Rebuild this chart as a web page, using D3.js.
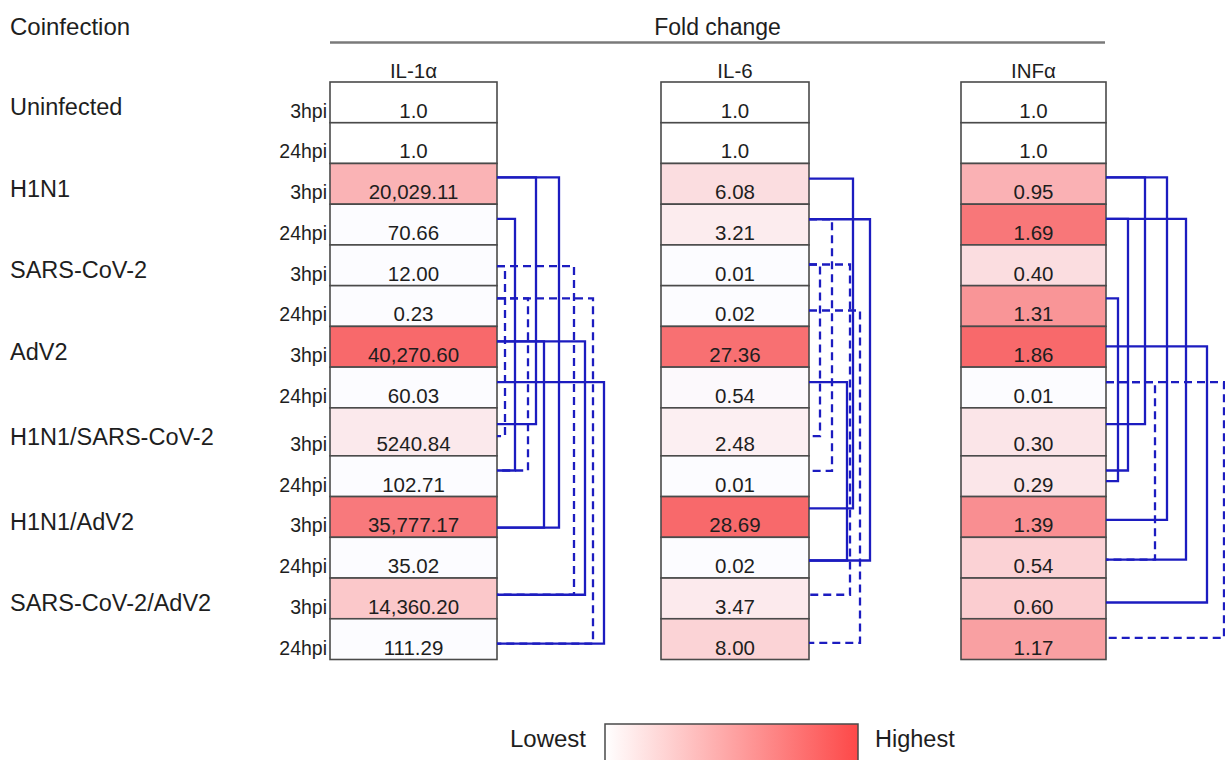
<!DOCTYPE html>
<html><head><meta charset="utf-8">
<script src="https://cdn.jsdelivr.net/npm/d3@7"></script>
<style>
body{margin:0;background:#fff;}
svg{display:block;}
text{font-family:"Liberation Sans",Arial,sans-serif;fill:#1e1e1e;}
</style>
</head><body>
<svg id="chart" width="1225" height="760"></svg>
<script>
// ---------------- DATA ----------------
const groups = ["Uninfected","H1N1","SARS-CoV-2","AdV2","H1N1/SARS-CoV-2","H1N1/AdV2","SARS-CoV-2/AdV2"];
const times = ["3hpi","24hpi"];
const cytokines = ["IL-1α","IL-6","INFα"];
const il1aLabels = ["1.0","1.0","20,029.11","70.66","12.00","0.23","40,270.60","60.03","5240.84","102.71","35,777.17","35.02","14,360.20","111.29"];
const il6Labels  = ["1.0","1.0","6.08","3.21","0.01","0.02","27.36","0.54","2.48","0.01","28.69","0.02","3.47","8.00"];
const infaLabels = ["1.0","1.0","0.95","1.69","0.40","1.31","1.86","0.01","0.30","0.29","1.39","0.54","0.60","1.17"];
// significance comparisons: [fromRow, toRow, dashed(1)/solid(0)]
const il1aComparisons = [[2,8,0],[2,10,0],[3,9,0],[4,8,1],[4,12,1],[5,9,1],[5,13,1],[6,10,0],[6,12,0],[7,13,0]];
const il6Comparisons  = [[2,10,0],[3,11,0],[3,9,1],[4,8,1],[4,12,1],[5,13,1],[7,11,0]];
const infaComparisons = [[2,8,0],[2,10,0],[3,9,0],[3,11,0],[5,9,0],[6,12,0],[7,11,1],[7,13,1]];
const legendLabels = ["Lowest","Highest"];
const headerLabels = ["Coinfection","Fold change"];

// ---------------- LAYOUT ----------------
const colBoxes = [[330,497],[661,809],[961,1106]];
// bracket lane offsets (px right of table) and anchor fractions within rows
const il1aLayout = [[39,.34,.34],[62,.34,.76],[18,.36,.36],[8,.52,.59],[77,.52,.41],[31,.31,.36],[96,.31,.61],[47,.37,.76],[88,.37,.41],[107,.37,.61]];
const il6Layout  = [[44,.37,.29],[61,.37,.57],[23,.37,.37],[11,.48,.59],[41,.48,.41],[51,.61,.59],[38,.37,.57]];
const infaLayout = [[39,.34,.34],[61,.34,.57],[22,.36,.36],[80,.36,.55],[12,.31,.62],[101,.49,.60],[49,.37,.55],[118,.37,.47]];

const nRows = groups.length * times.length;
const rowWeights = d3.range(nRows).map(r => r === 8 ? 1.178 : 1);
const rowStarts = [0]; rowWeights.forEach((w,i)=>rowStarts.push(rowStarts[i]+w));
const y = d3.scaleLinear().domain([0, rowStarts[nRows]]).range([82, 659.5]);
const rowTop = r => y(rowStarts[r]);
const rowBot = r => y(rowStarts[r+1]);
const rowAt = (r,f) => rowTop(r) + f*(rowBot(r)-rowTop(r));

const svg = d3.select("#chart");

// header
svg.append("text").attr("x",10).attr("y",35).attr("font-size",24).text(headerLabels[0]);
svg.append("text").attr("x",(330+1105)/2).attr("y",35).attr("font-size",23).attr("text-anchor","middle").text(headerLabels[1]);
svg.append("line").attr("x1",330).attr("x2",1105).attr("y1",42.5).attr("y2",42.5).attr("stroke","#7a7a7a").attr("stroke-width",2.4);

// group labels and row labels
groups.forEach((g,i)=>{
  const r = i*2;
  svg.append("text").attr("x",10).attr("y",(rowTop(r)+rowBot(r))/2 + 13).attr("font-size",23.5).text(g);
});
d3.range(nRows).forEach(r=>{
  svg.append("text").attr("x",327).attr("y",rowBot(r)-5).attr("text-anchor","end").attr("font-size",19.5).text(times[r%2]);
});

const allLabels = [il1aLabels, il6Labels, infaLabels];
const allComps = [il1aComparisons, il6Comparisons, infaComparisons];
const allLayouts = [il1aLayout, il6Layout, infaLayout];
const parse = s => +s.replace(/,/g,"");

cytokines.forEach((name, ci)=>{
  const [x0,x1] = colBoxes[ci];
  const labels = allLabels[ci];
  const vals = labels.map(parse);
  const infected = vals.slice(2);
  const color = d3.scaleLinear().domain([d3.min(infected), d3.max(infected)]).range(["#fcfcff","#f8696b"]);
  const g = svg.append("g");
  g.append("text").attr("x",(x0+x1)/2).attr("y",78).attr("text-anchor","middle").attr("font-size",20.5).text(name);
  g.selectAll("rect.cell").data(vals).join("rect")
    .attr("x",x0).attr("width",x1-x0)
    .attr("y",(d,i)=>rowTop(i)).attr("height",(d,i)=>rowBot(i)-rowTop(i))
    .attr("fill",(d,i)=> i<2 ? "#ffffff" : color(d))
    .attr("stroke","#4a4a4a").attr("stroke-width",1.6);
  g.selectAll("text.val").data(labels).join("text")
    .attr("x",(x0+x1)/2).attr("y",(d,i)=>rowBot(i)-5)
    .attr("text-anchor","middle").attr("font-size",20.5).text(d=>d);
  // brackets
  const comps = allComps[ci], lay = allLayouts[ci];
  const bg = svg.append("g").attr("fill","none").attr("stroke","#1c1cc0").attr("stroke-width",2.3);
  comps.forEach((c,k)=>{
    const [a,b,dashed] = c; const [off,f0,f1] = lay[k];
    const ya = rowAt(a,f0), yb = rowAt(b,f1), xl = x1+off;
    bg.append("path")
      .attr("d",`M${x1},${ya}H${xl}V${yb}H${x1}`)
      .attr("stroke-dasharray", dashed ? "8,5" : null);
  });
});

// legend
const defs = svg.append("defs");
const grad = defs.append("linearGradient").attr("id","lg").attr("x1","0%").attr("x2","100%");
grad.append("stop").attr("offset","0%").attr("stop-color","#ffffff");
grad.append("stop").attr("offset","100%").attr("stop-color","#fd4848");
svg.append("rect").attr("x",605).attr("y",724).attr("width",253).attr("height",60)
  .attr("fill","url(#lg)").attr("stroke","#4a4a4a").attr("stroke-width",1.5);
svg.append("text").attr("x",586).attr("y",747).attr("text-anchor","end").attr("font-size",24).text(legendLabels[0]);
svg.append("text").attr("x",875).attr("y",747).attr("font-size",23.5).text(legendLabels[1]);
</script>
</body></html>
